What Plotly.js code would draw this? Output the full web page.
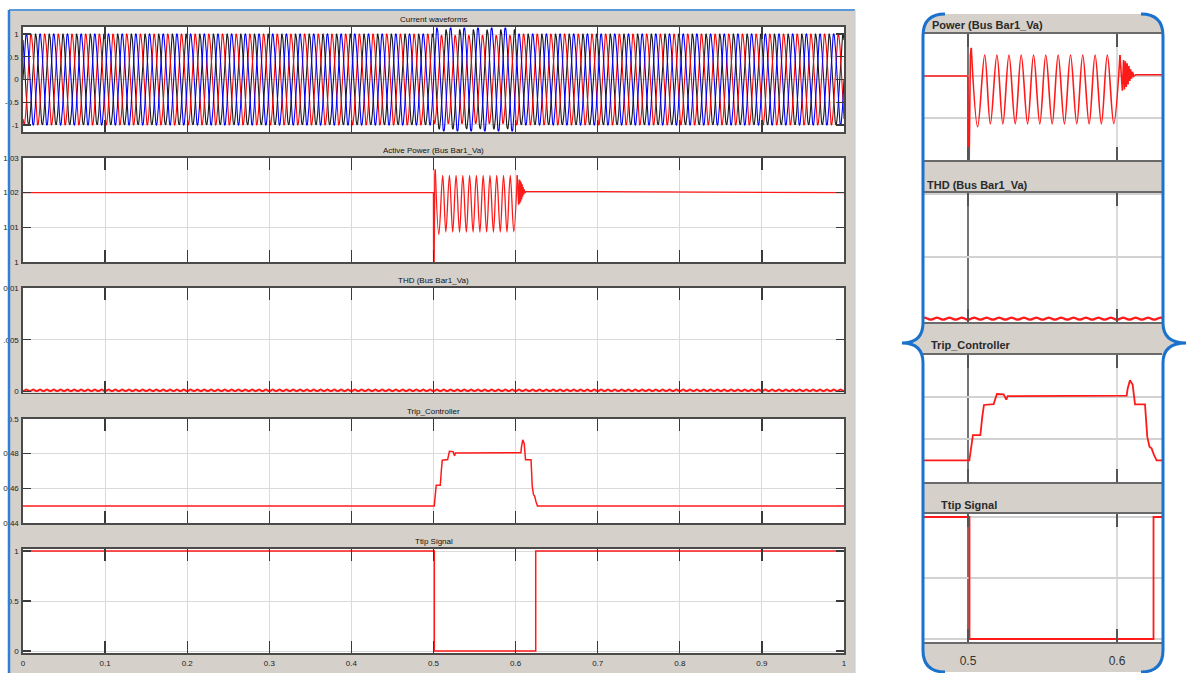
<!DOCTYPE html>
<html><head><meta charset="utf-8">
<script src="https://cdn.plot.ly/plotly-3.0.1.min.js"></script>
<style>html,body{margin:0;padding:0;background:#fff;overflow:hidden}#chart{width:1187px;height:673px}</style>
</head><body><div id="chart"></div>
<script>
// ================= DATA =================
const xTickVals = [0, 0.1, 0.2, 0.3, 0.4, 0.5, 0.6, 0.7, 0.8, 0.9, 1];
const xTickText = ['0', '0.1', '0.2', '0.3', '0.4', '0.5', '0.6', '0.7', '0.8', '0.9', '1'];
const panelTitles = ['Current waveforms', 'Active Power (Bus Bar1_Va)', 'THD (Bus Bar1_Va)', 'Trip_Controller', 'Ttip Signal'];
const insetTitles = ['Power (Bus Bar1_Va)', 'THD (Bus Bar1_Va)', 'Trip_Controller', 'Ttip Signal'];
const insetTickVals = [0.5, 0.6];
const insetTickText = ['0.5', '0.6'];

// Current waveforms: three phase currents, per-segment peak amplitude
const currentFreqHz = 60;
const currentSegmentT = [0, 0.5, 0.6, 1.0];
const currentAmpBlue = [1.0, 1.14, 1.0];
const currentAmpRed = [1.0, 0.97, 1.0];
const currentAmpBlack = [1.0, 1.09, 1.0];
const currentPhaseDeg = [0, -120, 120]; // blue, red, black
const currentTicks = [1, 0.5, 0, -0.5, -1];
const currentTickText = ['1', '0.5', '0', '-0.5', '-1'];

// Active power: flat, spike, oscillation extrema, ringing and recovery
const powerPreT = [0, 0.4999, 0.5001, 0.5008, 0.5016, 0.5022];
const powerPreV = [1.02, 1.02, 1.0, 1.0, 1.025, 1.0267];
const powerOscT = [0.5022, 0.5065, 0.5112, 0.5150, 0.5194, 0.5234, 0.5275, 0.5317, 0.5357, 0.5400, 0.5440, 0.5482, 0.5522, 0.5565, 0.5605, 0.5647, 0.5688, 0.5730, 0.5770, 0.5813, 0.5853, 0.5895, 0.5935, 0.5978, 0.6020];
const powerOscV = [1.0267, 1.0079, 1.0250, 1.0086, 1.0250, 1.0086, 1.0250, 1.0086, 1.0250, 1.0086, 1.0250, 1.0086, 1.0250, 1.0086, 1.0250, 1.0086, 1.0250, 1.0086, 1.0250, 1.0086, 1.0250, 1.0086, 1.0250, 1.0087, 1.0250];
const powerRingT = [0.6020, 0.6036, 0.6044, 0.6050, 0.6056, 0.6062, 0.6068, 0.6074, 0.6080, 0.6086, 0.6092, 0.6098, 0.6104, 0.6112, 0.6125, 0.7, 1.0];
const powerRingV = [1.0250, 1.0165, 1.0238, 1.0168, 1.0235, 1.0174, 1.0230, 1.0180, 1.0224, 1.0188, 1.0216, 1.0194, 1.0210, 1.0199, 1.0203, 1.0203, 1.0200];
const powerTicks = [1.03, 1.02, 1.01, 1];
const powerTickText = ['1.03', '1.02', '1.01', '1'];

// THD: near zero with a small periodic ripple (one ripple shape)
const thdRipplePeriod = 1 / 120;
const thdBumpPhase = [0, 0.25, 0.5, 0.75, 1];
const thdBumpVal = [0.00003, 0.00010, 0.00019, 0.00010, 0.00003];
const thdTicks = [0.01, 0.005, 0];
const thdTickText = ['0.01', '.005', '0'];

// Trip controller
const tripT = [0, 0.5009, 0.5033, 0.5083, 0.5095, 0.5107, 0.5172, 0.5194, 0.5239, 0.5257, 0.5266, 0.56, 0.6065, 0.6071, 0.6087, 0.6105, 0.6121, 0.6188, 0.6203, 0.6218, 0.6232, 0.6248, 0.6266, 1.0];
const tripV = [0.4498, 0.4498, 0.4618, 0.4618, 0.4700, 0.4762, 0.4766, 0.4814, 0.4812, 0.4787, 0.4804, 0.4805, 0.4806, 0.4838, 0.4880, 0.4858, 0.4765, 0.4765, 0.4611, 0.4563, 0.4555, 0.4524, 0.4498, 0.4498];
const tripTicks = [0.5, 0.48, 0.46, 0.44];
const tripTickText = ['0.5', '0.48', '0.46', '0.44'];

// Trip signal
const ttipT = [0, 0.501, 0.501, 0.6245, 0.6245, 1.0];
const ttipV = [1, 1, 0, 0, 1, 1];
const ttipTicks = [1, 0.5, 0];
const ttipTickText = ['1', '0.5', '0'];

// ================= BUILD =================
const W = 1187, H = 673;
const px = x => x / W;
const py = y => 1 - y / H;
const dom = (y1, y2) => [py(y2), py(y1)];
const pathPx = s => s.replace(/(-?[\d.]+),(-?[\d.]+)/g, (m, a, b) => px(+a).toFixed(5) + ',' + py(+b).toFixed(5));

function buildCurrent(ampSeg, phaseDeg) {
  const xs = [], ys = [];
  const n = currentFreqHz * 40;
  for (let i = 0; i <= n; i++) {
    const t = i / n;
    let k = 0;
    while (k < ampSeg.length - 1 && t >= currentSegmentT[k + 1]) k++;
    xs.push(t);
    ys.push(ampSeg[k] * Math.sin(2 * Math.PI * currentFreqHz * t + phaseDeg * Math.PI / 180));
  }
  return {xs, ys};
}
const thdX = [], thdY = [];
for (let c = 0; c * thdRipplePeriod <= 1; c++) {
  for (let j = 0; j < thdBumpPhase.length - 1; j++) {
    const t = (c + thdBumpPhase[j]) * thdRipplePeriod;
    if (t <= 1) { thdX.push(t); thdY.push(thdBumpVal[j]); }
  }
}

const RED = '#ff1a1a';
const traces = [];
const cb = buildCurrent(currentAmpBlue, currentPhaseDeg[0]);
const cr = buildCurrent(currentAmpRed, currentPhaseDeg[1]);
const ck = buildCurrent(currentAmpBlack, currentPhaseDeg[2]);
traces.push({x: ck.xs, y: ck.ys, xaxis: 'x', yaxis: 'y', mode: 'lines', line: {color: '#1a1a1a', width: 1.1}});
traces.push({x: cr.xs, y: cr.ys, xaxis: 'x', yaxis: 'y', mode: 'lines', line: {color: '#ff0000', width: 1.1}});
traces.push({x: cb.xs, y: cb.ys, xaxis: 'x', yaxis: 'y', mode: 'lines', line: {color: '#0000ff', width: 1.1}});

function addSignals(sfx, w) {
  const ax = n => (n === 1 && sfx === 0) ? '' : String(n + sfx);
  traces.push({x: powerPreT, y: powerPreV, xaxis: 'x' + ax(2), yaxis: 'y' + ax(2), mode: 'lines', line: {color: RED, width: w}});
  traces.push({x: powerOscT, y: powerOscV, xaxis: 'x' + ax(2), yaxis: 'y' + ax(2), mode: 'lines', line: {color: RED, width: w, shape: 'spline', smoothing: 1.0}});
  traces.push({x: powerRingT, y: powerRingV, xaxis: 'x' + ax(2), yaxis: 'y' + ax(2), mode: 'lines', line: {color: RED, width: w}});
  traces.push({x: thdX, y: thdY, xaxis: 'x' + ax(3), yaxis: 'y' + ax(3), mode: 'lines', line: {color: RED, width: w + 0.8, shape: 'spline'}});
  traces.push({x: tripT, y: tripV, xaxis: 'x' + ax(4), yaxis: 'y' + ax(4), mode: 'lines', line: {color: RED, width: w + 0.2}});
  traces.push({x: ttipT, y: ttipV, xaxis: 'x' + ax(5), yaxis: 'y' + ax(5), mode: 'lines', line: {color: RED, width: w + 0.2}});
}
addSignals(0, 1.3);
addSignals(4, 1.6);

const tickFont = {family: 'Liberation Sans, Arial, sans-serif', size: 8, color: '#222'};
const leftXDom = [px(23), px(844)];
const leftY = [[27, 132], [158, 262], [288, 392.5], [419, 523], [549, 653]];
const leftRanges = [[-1.154, 1.154], [1.0, 1.03], [-0.0001, 0.01001], [0.44, 0.5], [-0.02, 1.02]];
const leftTicks = [[currentTicks, currentTickText], [powerTicks, powerTickText], [thdTicks, thdTickText], [tripTicks, tripTickText], [ttipTicks, ttipTickText]];

const layout = {
  width: W, height: H, autosize: false,
  margin: {l: 0, r: 0, t: 0, b: 0, pad: 0},
  paper_bgcolor: '#ffffff', plot_bgcolor: 'rgba(0,0,0,0)',
  showlegend: false, hovermode: false,
  font: {family: 'Liberation Sans, Arial, sans-serif'},
  shapes: [], annotations: []
};

for (let i = 0; i < 5; i++) {
  const n = i === 0 ? '' : String(i + 1);
  layout['xaxis' + n] = {
    domain: leftXDom, range: [0, 1], anchor: 'y' + n,
    tickmode: 'array', tickvals: xTickVals, ticktext: xTickText, showticklabels: i === 4,
    ticks: 'inside', ticklen: 12, tickwidth: 1.4, tickcolor: '#3a3a3a',
    showgrid: true, gridcolor: '#dadada', gridwidth: 1,
    showline: true, linecolor: '#4a4a4a', linewidth: 1.6, mirror: 'ticks',
    zeroline: false, tickfont: tickFont, ticklabelstandoff: 2, fixedrange: true
  };
  layout['yaxis' + n] = {
    domain: dom(leftY[i][0], leftY[i][1]), range: leftRanges[i], anchor: 'x' + n,
    tickmode: 'array', tickvals: leftTicks[i][0], ticktext: leftTicks[i][1],
    ticks: 'inside', ticklen: 8, tickwidth: 1.4, tickcolor: '#3a3a3a',
    showgrid: true, gridcolor: '#dadada', gridwidth: 1,
    showline: true, linecolor: '#4a4a4a', linewidth: 1.6, mirror: 'ticks',
    zeroline: false, tickfont: tickFont, ticklabelstandoff: 1, fixedrange: true
  };
  layout.annotations.push({xref: 'paper', yref: 'paper', x: px(433.5), y: py(leftY[i][0] - 8), text: panelTitles[i],
    showarrow: false, xanchor: 'center', yanchor: 'middle', font: {family: 'Liberation Sans, Arial, sans-serif', size: 8, color: '#111'}});
}

const insetXDom = [px(923), px(1162)];
const insetXRange = [0.4698, 0.6302];
const insetY = [[34, 160], [193, 322], [355, 482], [514, 642]];
const insetRanges = [[1.0, 1.03], [-0.00016, 0.01008], [0.4395, 0.5], [-0.0246, 1.0246]];
const insetGrid = [[1.02, 1.01], [0.005, 0.01], [0.48, 0.46], [1, 0.5, 0]];
const insetTitleX = [930, 925, 929, 939];
const insetTitleY = [25, 185, 345, 505];
for (let i = 0; i < 4; i++) {
  const n = String(i + 6);
  layout['xaxis' + n] = {
    domain: insetXDom, range: insetXRange, anchor: 'y' + n,
    tickmode: 'array', tickvals: insetTickVals, ticktext: insetTickText, showticklabels: i === 3,
    ticks: 'inside', ticklen: 13, tickwidth: 2, tickcolor: '#555',
    showgrid: false, showline: true, linecolor: '#6a6a6a', linewidth: 2.2, mirror: 'ticks',
    zeroline: false, tickfont: {family: 'Liberation Sans, Arial, sans-serif', size: 12, color: '#333'},
    ticklabelstandoff: 6, fixedrange: true
  };
  layout['yaxis' + n] = {
    domain: dom(insetY[i][0], insetY[i][1]), range: insetRanges[i], anchor: 'x' + n,
    tickmode: 'array', tickvals: insetGrid[i], showticklabels: false, ticks: '',
    showgrid: true, gridcolor: '#d2d2d2', gridwidth: 1.6,
    showline: false, zeroline: false, fixedrange: true
  };
  layout.annotations.push({xref: 'paper', yref: 'paper', x: px(insetTitleX[i]), y: py(insetTitleY[i]), text: '<b>' + insetTitles[i] + '</b>',
    showarrow: false, xanchor: 'left', yanchor: 'middle', font: {family: 'Liberation Sans, Arial, sans-serif', size: 11, color: '#2a2a2a'}});
}

const GRAY = '#d5d0ca';
const S = layout.shapes;
// left scope window background
S.push({type: 'rect', xref: 'paper', yref: 'paper', x0: px(9), x1: px(855), y0: py(673), y1: py(10), fillcolor: GRAY, line: {width: 0}, layer: 'below'});
// inset brace background
const braceFill = 'M945,14 L1141,14 Q1163,14 1163,36 L1163,323 Q1163,343 1186,343 Q1163,343 1163,363 L1163,650 Q1163,672 1141,672 L945,672 Q923,672 923,650 L923,363 Q923,343 902,343 Q923,343 923,323 L923,36 Q923,14 945,14 Z';
S.push({type: 'path', xref: 'paper', yref: 'paper', path: pathPx(braceFill), fillcolor: GRAY, line: {width: 0}, layer: 'below'});
// white plot areas
for (let i = 0; i < 5; i++) S.push({type: 'rect', xref: 'paper', yref: 'paper', x0: px(23), x1: px(844), y0: py(leftY[i][1]), y1: py(leftY[i][0]), fillcolor: '#ffffff', line: {width: 0}, layer: 'below'});
for (let i = 0; i < 4; i++) S.push({type: 'rect', xref: 'paper', yref: 'paper', x0: px(923), x1: px(1162), y0: py(insetY[i][1]), y1: py(insetY[i][0]), fillcolor: '#ffffff', line: {width: 0}, layer: 'below'});
// inset vertical grid lines
for (let i = 0; i < 4; i++) {
  const n = String(i + 6);
  S.push({type: 'line', xref: 'x' + n, yref: 'y' + n + ' domain', x0: 0.6, x1: 0.6, y0: 0, y1: 1, line: {color: '#d2d2d2', width: 1.6}, layer: 'below'});
  S.push({type: 'line', xref: 'x' + n, yref: 'y' + n + ' domain', x0: 0.5, x1: 0.5, y0: 0, y1: 1, line: {color: '#1a1a1a', width: 1.2}, layer: 'below'});
}
// window borders
S.push({type: 'line', xref: 'paper', yref: 'paper', x0: px(9), x1: px(855), y0: py(10), y1: py(10), line: {color: '#5a9ad8', width: 2}, layer: 'above'});
S.push({type: 'line', xref: 'paper', yref: 'paper', x0: px(9), x1: px(9), y0: py(10), y1: py(673), line: {color: '#2f7fd6', width: 2.5}, layer: 'above'});
S.push({type: 'line', xref: 'paper', yref: 'paper', x0: px(855), x1: px(855), y0: py(10), y1: py(673), line: {color: '#c3cfdb', width: 1.2}, layer: 'above'});
// brace outlines
const braceLeft = 'M945,14 Q923,14 923,36 L923,323 Q923,343 902,343 Q923,343 923,363 L923,650 Q923,672 945,672';
const braceRight = 'M1141,14 Q1163,14 1163,36 L1163,323 Q1163,343 1186,343 Q1163,343 1163,363 L1163,650 Q1163,672 1141,672';
S.push({type: 'path', xref: 'paper', yref: 'paper', path: pathPx(braceLeft), line: {color: '#1b72cc', width: 3}, layer: 'above'});
S.push({type: 'path', xref: 'paper', yref: 'paper', path: pathPx(braceRight), line: {color: '#1b72cc', width: 3}, layer: 'above'});

Plotly.newPlot('chart', traces, layout, {staticPlot: true, displayModeBar: false});
</script>
</body></html>
